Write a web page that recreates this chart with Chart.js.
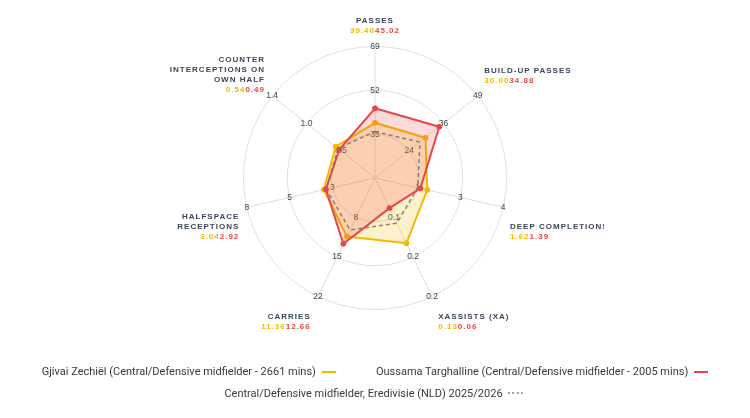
<!DOCTYPE html>
<html>
<head>
<meta charset="utf-8">
<script src="https://cdn.jsdelivr.net/npm/chart.js@4"></script>
<style>
  html, body { margin: 0; padding: 0; background: #ffffff; }
  #wrap { position: relative; width: 750px; height: 418px; overflow: hidden; }
  #c { position: absolute; left: 0; top: 0; }
  #legend { position: absolute; left: 0; top: 361px; width: 750px; font-family: Roboto, "Noto Sans", sans-serif; font-size: 11px; color: #3a3a3a; }
  .row { display: flex; justify-content: center; align-items: center; height: 21.5px; }
  .item { display: flex; align-items: center; margin: 0 20px; white-space: nowrap; }
  .sw { display: inline-block; width: 14px; height: 2px; margin-left: 6px; }
  .dots { display: inline-block; width: 18px; height: 2px; margin-left: 5px;
          background: repeating-linear-gradient(to right, #a8a29c 0 1.6px, transparent 1.6px 4.5px); }
</style>
</head>
<body>
<div id="wrap">
  <canvas id="c" width="750" height="418"></canvas>
  <div id="legend"></div>
</div>
<script>
// ---- data ----
const categories = [
  ['PASSES'],
  ['BUILD-UP PASSES'],
  ['DEEP COMPLETIONS'],
  ['XASSISTS (XA)'],
  ['CARRIES'],
  ['HALFSPACE', 'RECEPTIONS'],
  ['COUNTER', 'INTERCEPTIONS ON', 'OWN HALF']
];
const seriesNames = [
  'Gjivai Zechiël (Central/Defensive midfielder - 2661 mins)',
  'Oussama Targhalline (Central/Defensive midfielder - 2005 mins)',
  'Central/Defensive midfielder, Eredivisie (NLD) 2025/2026'
];
const zechielValues = [39.40, 30.00, 1.62, 0.13, 11.36, 3.04, 0.54];
const targhallineValues = [45.02, 34.88, 1.39, 0.06, 12.66, 2.92, 0.49];
const leagueValues = [36.0, 28.0, 1.30, 0.09, 10.2, 2.90, 0.51];
// per-axis scale: value at centre and value at outer ring
const axisMin = [18, 12, -0.14, 0, 1, 0.07, -0.01];
const axisMax = [69, 48.6, 4.18, 0.236, 22, 7.51, 1.43];
// per-axis tick labels at rings 1..3
const tickLabels = [
  ['35', '52', '69'],
  ['24', '36', '49'],
  ['1', '3', '4'],
  ['0.1', '0.2', '0.2'],
  ['8', '15', '22'],
  ['3', '5', '8'],
  ['0.5', '1.0', '1.4']
];

// ---- styling / layout ----
const YELLOW = '#f5b700';
const RED = '#ea4646';
const RINGS = 3;
const CENTER = { x: 375, y: 178, r: 131.5 };
// label placement relative to the outer end of each axis: [dx, dy of value line, align]
const labelPlace = [
  [0, -15.5, 'center'],
  [6.5, -15.4, 'left'],
  [6.8, 30, 'left'],
  [6.2, 30.2, 'left'],
  [-7.2, 30.2, 'right'],
  [-7.5, 30, 'right'],
  [-7.2, -6.1, 'right']
];

const norm = (arr) => arr.map((v, i) => (v - axisMin[i]) / (axisMax[i] - axisMin[i]) * RINGS);

const overlay = {
  id: 'overlay',
  beforeDatasetsDraw(chart) {
    const s = chart.scales.r, ctx = chart.ctx;
    ctx.save();
    ctx.font = '8.5px "Liberation Sans", Arial, sans-serif';
    ctx.fillStyle = '#444';
    ctx.textAlign = 'center';
    ctx.textBaseline = 'middle';
    tickLabels.forEach((arr, i) => arr.forEach((t, k) => {
      const p = s.getPointPosition(i, s.getDistanceFromCenterForValue(k + 1));
      ctx.fillText(t, p.x, p.y);
    }));
    ctx.restore();
  },
  afterDraw(chart) {
    const s = chart.scales.r, ctx = chart.ctx;
    ctx.save();
    ctx.beginPath();
    ctx.rect(0, 0, 604, 418);
    ctx.clip();
    ctx.font = 'bold 8px "Liberation Sans", Arial, sans-serif';
    ctx.letterSpacing = '1px';
    ctx.textBaseline = 'middle';
    categories.forEach((lines, i) => {
      const p = s.getPointPosition(i, s.drawingArea);
      const [dx, dy, align] = labelPlace[i];
      const x = p.x + dx, vy = p.y + dy;
      ctx.fillStyle = '#3b4659';
      ctx.textAlign = align;
      lines.forEach((ln, j) => {
        ctx.fillText(ln, x, vy - 10 * (lines.length - j));
      });
      const a = zechielValues[i].toFixed(2), b = targhallineValues[i].toFixed(2);
      const wa = ctx.measureText(a).width, wb = ctx.measureText(b).width;
      let start = align === 'left' ? x : align === 'right' ? x - wa - wb : x - (wa + wb) / 2;
      ctx.textAlign = 'left';
      ctx.fillStyle = YELLOW;
      ctx.fillText(a, start, vy);
      ctx.fillStyle = RED;
      ctx.fillText(b, start + wa, vy);
    });
    ctx.restore();
  }
};

new Chart(document.getElementById('c'), {
  type: 'radar',
  data: {
    labels: categories.map(l => l.join(' ')),
    datasets: [
      {
        label: seriesNames[0], data: norm(zechielValues), order: 2,
        borderColor: YELLOW, backgroundColor: 'rgba(245,183,0,0.2)', borderWidth: 2,
        pointRadius: 2.5, pointBorderWidth: 1, pointBackgroundColor: YELLOW, pointBorderColor: YELLOW, fill: true
      },
      {
        label: seriesNames[1], data: norm(targhallineValues), order: 1,
        borderColor: RED, backgroundColor: 'rgba(234,70,70,0.2)', borderWidth: 2,
        pointRadius: 2.5, pointBorderWidth: 1, pointBackgroundColor: RED, pointBorderColor: RED, fill: true
      },
      {
        label: seriesNames[2], data: norm(leagueValues), order: 0,
        borderColor: 'rgba(125,112,100,0.85)', backgroundColor: 'transparent', borderWidth: 1.5,
        borderDash: [4, 3], pointRadius: 0, fill: false
      }
    ]
  },
  options: {
    responsive: false,
    animation: false,
    devicePixelRatio: 1,
    plugins: { legend: { display: false }, tooltip: { enabled: false } },
    elements: { line: { tension: 0 } },
    scales: {
      r: {
        min: 0, max: RINGS,
        ticks: { display: false, stepSize: 1 },
        pointLabels: { display: false },
        grid: { circular: true, color: '#dae0e9', lineWidth: 1 },
        angleLines: { color: '#dcdcdc', lineWidth: 1 },
        afterUpdate(s) { s.xCenter = CENTER.x; s.yCenter = CENTER.y; s.drawingArea = CENTER.r; }
      }
    }
  },
  plugins: [overlay]
});

// ---- legend ----
const legendRows = [[0, 1], [2]];
const swatch = [
  '<span class="sw" style="background:' + YELLOW + '"></span>',
  '<span class="sw" style="background:' + RED + '"></span>',
  '<span class="dots"></span>'
];
document.getElementById('legend').innerHTML = legendRows.map(r =>
  '<div class="row">' + r.map(i => '<span class="item">' + seriesNames[i] + swatch[i] + '</span>').join('') + '</div>'
).join('');
</script>
</body>
</html>
